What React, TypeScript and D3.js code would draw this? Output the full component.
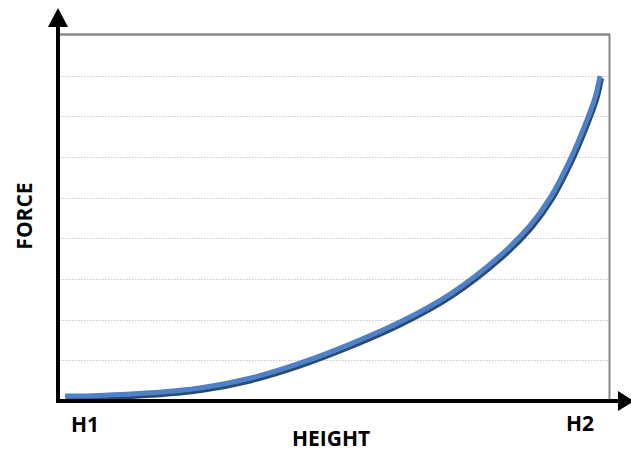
import React from "react";
import * as d3 from "d3";

const heights = [0, 0.065, 0.159, 0.252, 0.346, 0.439, 0.533, 0.626, 0.72, 0.813, 0.869, 0.907, 0.944, 0.972, 0.991, 1.0];
const forces = [0.12, 0.135, 0.2, 0.32, 0.56, 0.93, 1.4, 1.94, 2.63, 3.57, 4.31, 5.0, 5.93, 6.79, 7.47, 7.99];
const gridValues = [1, 2, 3, 4, 5, 6, 7, 8];
const xTickLabels = ["H1", "H2"];
const xAxisTitle = "HEIGHT";
const yAxisTitle = "FORCE";

const W = 631;
const H = 451;
const FONT = "'Open Sans', 'DejaVu Sans', sans-serif";

export default function App() {
  const x = d3.scaleLinear().domain([0, 1]).range([65, 600]);
  const y = d3.scaleLinear().domain([0, 9]).range([401, 35]);
  const pts: [number, number][] = heights.map((h, i) => [x(h), y(forces[i])]);
  const line = d3.line().curve(d3.curveCatmullRom.alpha(0.5));
  const d = line(pts) || "";
  const shadow = line(pts.map(([a, b]) => [a + 1, b + 2] as [number, number])) || "";

  return (
    <svg
      width={W}
      height={H}
      style={{ position: "absolute", left: 0, top: 0, background: "#fff" }}
    >
      {gridValues.map((g) => (
        <line
          key={g}
          x1={60}
          x2={609}
          y1={Math.round(y(g)) + 0.5}
          y2={Math.round(y(g)) + 0.5}
          stroke="#c8c8c8"
          strokeWidth={1}
          strokeDasharray="1.5,1.5"
        />
      ))}
      {/* plot border top & right */}
      <line x1={58} x2={610} y1={34.5} y2={34.5} stroke="#878787" strokeWidth={2.5} />
      <line x1={609.5} x2={609.5} y1={34} y2={401} stroke="#878787" strokeWidth={2} />

      {/* curve */}
      <path d={shadow} fill="none" stroke="#2b4a73" strokeWidth={6} strokeLinecap="butt" />
      <path d={d} fill="none" stroke="#4f81c7" strokeWidth={5} strokeLinecap="butt" />

      {/* axes */}
      <line x1={58} x2={58} y1={403} y2={22} stroke="#000" strokeWidth={4} />
      <polygon points="58,8 48,27 68,27" fill="#000" />
      <line x1={56} x2={622} y1={401} y2={401} stroke="#000" strokeWidth={4} />
      <polygon points="634,401 618,391 618,411" fill="#000" />

      {/* labels */}
      <text x={85} y={432} textAnchor="middle" fontFamily={FONT} fontWeight="bold" fontSize={21} fill="#000">
        {xTickLabels[0]}
      </text>
      <text x={580} y={431} textAnchor="middle" fontFamily={FONT} fontWeight="bold" fontSize={21} fill="#000">
        {xTickLabels[1]}
      </text>
      <text x={331} y={446} textAnchor="middle" fontFamily={FONT} fontWeight="bold" fontSize={21} fill="#000">
        {xAxisTitle}
      </text>
      <text
        transform="translate(32,216) rotate(-90)"
        textAnchor="middle"
        fontFamily={FONT}
        fontWeight="bold"
        fontSize={21}
        fill="#000"
      >
        {yAxisTitle}
      </text>
    </svg>
  );
}
